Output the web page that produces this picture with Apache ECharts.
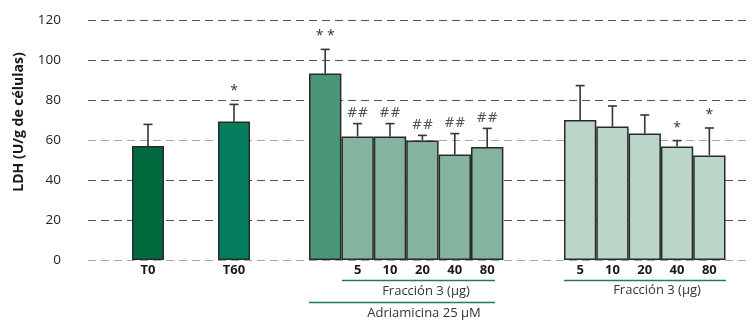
<!DOCTYPE html>
<html>
<head>
<meta charset="utf-8">
<script src="https://cdn.jsdelivr.net/npm/echarts@6/dist/echarts.min.js"></script>
<style>html,body{margin:0;padding:0;background:#fff}#c{width:753px;height:320px}</style>
</head>
<body>
<div id="c"></div>
<script>
// ---- data ----
const yTicks = [0, 20, 40, 60, 80, 100, 120];
const ctrlCats = ['T0', 'T60'];
const ctrlVals = [57, 69.2];
const ctrlErr = [10.8, 8.6];
const ctrlMarks = ['', '*'];

const adriCats = ['', '5', '10', '20', '40', '80'];
const adriVals = [93.3, 61.8, 61.8, 59.7, 52.8, 56.5];
const adriErr = [12, 6.4, 6.4, 2.6, 10.4, 9.3];
const adriMarks = ['* *', '##', '##', '##', '##', '##'];

const fracCats = ['5', '10', '20', '40', '80'];
const fracVals = [70, 66.7, 63.2, 56.8, 52.3];
const fracErr = [17.2, 10.3, 9.3, 2.9, 13.7];
const fracMarks = ['', '', '', '*', '*'];

const ctrlColors = ['#006a3e', '#047e5c'];
const adriColors = ['#4a9676', '#84b49d', '#84b49d', '#84b49d', '#84b49d', '#84b49d'];
const fracColors = ['#bad6c9', '#bad6c9', '#bad6c9', '#bad6c9', '#bad6c9'];

const FONT = 'Open Sans';
const TOP = 20, H = 240;
const grids = [
  {left: 88, top: TOP, width: 660, height: H},
  {left: 105, top: TOP, width: 172, height: H},
  {left: 309, top: TOP, width: 194.4, height: H},
  {left: 564, top: TOP, width: 161.5, height: H}
];

const chart = echarts.init(document.getElementById('c'), null, {renderer: 'canvas'});

function xAx(gi, cats) {
  return {
    type: 'category', gridIndex: gi, data: cats,
    axisLine: {show: false}, axisTick: {show: false}, splitLine: {show: false},
    axisLabel: {show: true, margin: 4, color: '#1a1a1a', fontFamily: FONT, fontSize: 13, fontWeight: 'bold'}
  };
}
function yAx(gi, main) {
  return {
    type: 'value', gridIndex: gi, min: yTicks[0], max: yTicks[yTicks.length - 1], interval: yTicks[1] - yTicks[0],
    axisLine: {show: false}, axisTick: {show: false},
    axisLabel: main ? {show: true, margin: 27, color: '#222', fontFamily: FONT, fontSize: 13.5} : {show: false},
    splitLine: main ? {show: true, lineStyle: {type: [8, 5], width: 1.2,
      color: ['#a8a8a8', '#555', '#555', '#a8a8a8', '#555', '#555', '#555']}} : {show: false}
  };
}
function barSeries(gi, vals, colors) {
  return {
    type: 'bar', xAxisIndex: gi, yAxisIndex: gi,
    data: vals.map((v, i) => ({value: v, itemStyle: {color: colors[i]}})),
    barWidth: gi === 1 ? 32 : '100%',
    barGap: '0%',
    itemStyle: {borderColor: '#2a2a2a', borderWidth: 1.5},
    silent: true, z: 2
  };
}
function errSeries(gi, vals, errs, marks) {
  return {
    type: 'custom', xAxisIndex: gi, yAxisIndex: gi, z: 5, silent: true,
    data: vals.map((v, i) => [i, v, errs[i]]),
    renderItem: function (params, api) {
      const i = api.value(0), v = api.value(1), e = api.value(2);
      const b = api.coord([i, v]);
      const t = api.coord([i, v + e]);
      const mark = marks[i];
      const ls = {stroke: '#2b3a35', lineWidth: 1.6};
      const kids = [
        {type: 'line', shape: {x1: b[0], y1: b[1], x2: t[0], y2: t[1]}, style: ls},
        {type: 'line', shape: {x1: t[0] - 4.5, y1: t[1], x2: t[0] + 4.5, y2: t[1]}, style: ls}
      ];
      if (mark) {
        const hash = mark.indexOf('#') >= 0;
        kids.push({type: 'text', style: {
          text: mark, x: t[0], y: t[1] - (hash ? 3 : 6),
          align: 'center', verticalAlign: 'bottom',
          fill: hash ? '#555' : '#333',
          font: hash ? 'italic 13px "DejaVu Serif"' : '14px ' + FONT
        }});
      }
      return {type: 'group', children: kids};
    }
  };
}

const lineColor = '#1f7d5a';
const option = {
  animation: false,
  grid: grids.map(g => Object.assign({containLabel: false}, g)),
  xAxis: [
    {type: 'value', gridIndex: 0, show: false, min: 0, max: 1},
    xAx(1, ctrlCats), xAx(2, adriCats), xAx(3, fracCats)
  ],
  yAxis: [yAx(0, true), yAx(1, false), yAx(2, false), yAx(3, false)],
  series: [
    barSeries(1, ctrlVals, ctrlColors), errSeries(1, ctrlVals, ctrlErr, ctrlMarks),
    barSeries(2, adriVals, adriColors), errSeries(2, adriVals, adriErr, adriMarks),
    barSeries(3, fracVals, fracColors), errSeries(3, fracVals, fracErr, fracMarks)
  ],
  graphic: [
    {type: 'text', x: 19, y: 122, rotation: Math.PI / 2,
      style: {text: 'LDH (U/g de células)', align: 'center', verticalAlign: 'middle',
        font: 'bold 14px "' + FONT + '"', fill: '#1a1a1a'}},
    {type: 'line', shape: {x1: 342, y1: 280.5, x2: 495, y2: 280.5}, style: {stroke: lineColor, lineWidth: 1.5}},
    {type: 'text', x: 426, y: 291.5, style: {text: 'Fracción 3 (µg)', align: 'center', verticalAlign: 'middle',
      font: '13px "' + FONT + '"', fill: '#333'}},
    {type: 'line', shape: {x1: 309, y1: 302.5, x2: 495, y2: 302.5}, style: {stroke: lineColor, lineWidth: 1.5}},
    {type: 'text', x: 424, y: 313, style: {text: 'Adriamicina 25 µM', align: 'center', verticalAlign: 'middle',
      font: '13px "' + FONT + '"', fill: '#333'}},
    {type: 'line', shape: {x1: 564, y1: 280.5, x2: 726, y2: 280.5}, style: {stroke: lineColor, lineWidth: 1.5}},
    {type: 'text', x: 657, y: 290.5, style: {text: 'Fracción 3 (µg)', align: 'center', verticalAlign: 'middle',
      font: '13px "' + FONT + '"', fill: '#333'}}
  ]
};
chart.setOption(option);
</script>
</body>
</html>
